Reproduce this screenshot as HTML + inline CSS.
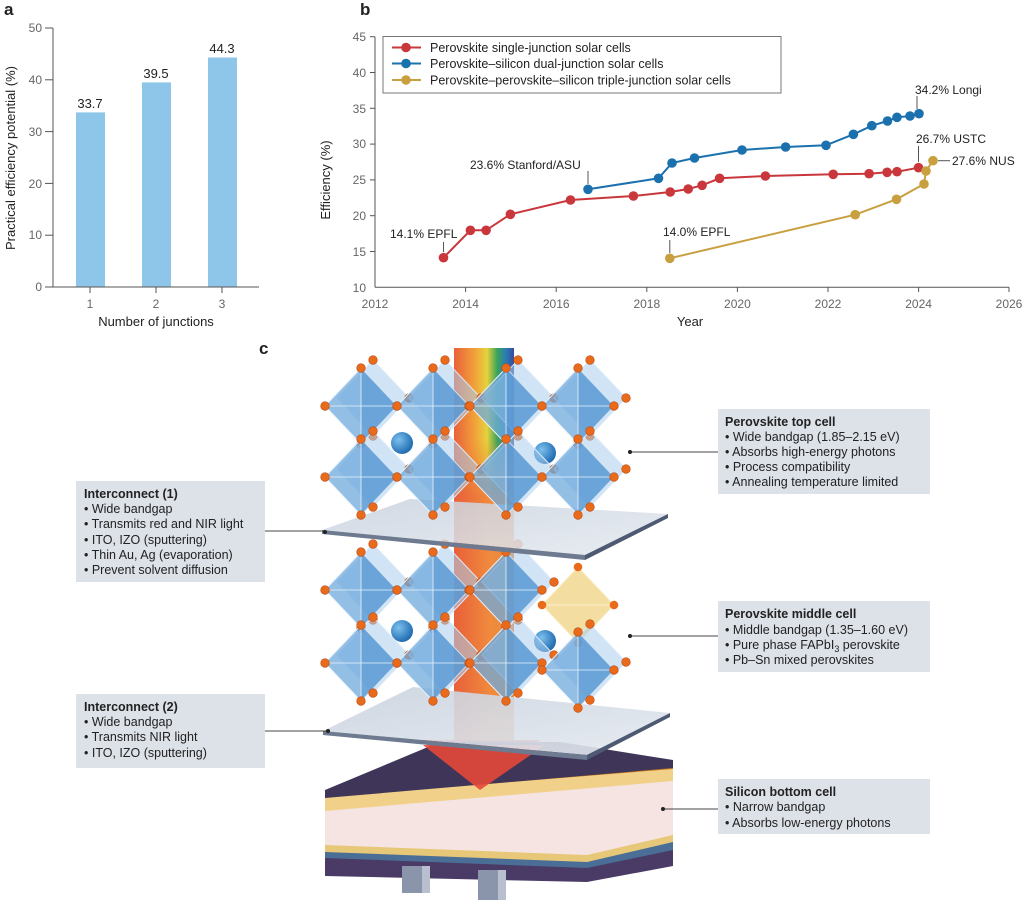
<!DOCTYPE html>
<html><head><meta charset="utf-8"><style>
html,body{margin:0;padding:0;background:#fff}
svg{display:block}
text{font-family:"Liberation Sans",sans-serif}
</style></head><body>
<svg width="1024" height="913" viewBox="0 0 1024 913" xmlns="http://www.w3.org/2000/svg">
<defs>
<linearGradient id="rb" x1="0" x2="1" y1="0" y2="0">
<stop offset="0" stop-color="#e8603a"/><stop offset="0.35" stop-color="#f2a23a"/><stop offset="0.55" stop-color="#e6d23c"/><stop offset="0.72" stop-color="#3aa45a"/><stop offset="0.87" stop-color="#2a7ab8"/><stop offset="1" stop-color="#3a4a9a"/>
</linearGradient>
<linearGradient id="fade" x1="0" x2="0" y1="0" y2="1"><stop offset="0" stop-color="#fff"/><stop offset="0.6" stop-color="#fff"/><stop offset="1" stop-color="#000"/></linearGradient>
<mask id="rbm"><rect x="440" y="348" width="90" height="150" fill="url(#fade)"/></mask>
<linearGradient id="beam" x1="0" x2="1"><stop offset="0" stop-color="#e8603a"/><stop offset="0.6" stop-color="#f08a3c"/><stop offset="1" stop-color="#e88a40"/></linearGradient>
<linearGradient id="plate" x1="0" x2="1" y1="0" y2="1"><stop offset="0" stop-color="#c9d2de"/><stop offset="1" stop-color="#e4e9f0"/></linearGradient>
<radialGradient id="sph" cx="0.35" cy="0.35" r="0.7"><stop offset="0" stop-color="#7cc0ee"/><stop offset="1" stop-color="#1d68ae"/></radialGradient>
<g id="oct">
<polygon points="12,-46 48,-8 12,30 -24,-8" fill="#a9cdee" fill-opacity="0.55" stroke="#dbeafa" stroke-width="1"/>
<polygon points="0,-38 36,0 0,38 -36,0" fill="#6fa9dc" fill-opacity="0.75" stroke="#e6f1fb" stroke-width="1"/>
<polygon points="0,-38 36,0 0,38" fill="#4a8ccc" fill-opacity="0.45"/>
<line x1="-36" y1="0" x2="36" y2="0" stroke="#eaf3fc" stroke-width="0.8"/>
<line x1="0" y1="-38" x2="0" y2="38" stroke="#eaf3fc" stroke-width="0.8"/>
<circle cx="0" cy="-38" r="4.3" fill="#ea6a1c" stroke="#b94a10" stroke-width="0.6"/>
<circle cx="12" cy="-46" r="4.3" fill="#ea6a1c" stroke="#b94a10" stroke-width="0.6"/>
<circle cx="48" cy="-8" r="4.3" fill="#ea6a1c" stroke="#b94a10" stroke-width="0.6"/>
<circle cx="-36" cy="0" r="4.3" fill="#ea6a1c" stroke="#b94a10" stroke-width="0.6"/>
<circle cx="36" cy="0" r="4.3" fill="#ea6a1c" stroke="#b94a10" stroke-width="0.6"/>
<circle cx="0" cy="38" r="4.3" fill="#ea6a1c" stroke="#b94a10" stroke-width="0.6"/>
<circle cx="12" cy="30" r="4.3" fill="#ea6a1c" stroke="#b94a10" stroke-width="0.6"/>
</g>
<g id="octg">
<polygon points="0,-38 36,0 0,38 -36,0" fill="#f0d48a" fill-opacity="0.8" stroke="#fbefc8" stroke-width="1"/>
<line x1="-36" y1="0" x2="36" y2="0" stroke="#fff4d8" stroke-width="0.8"/>
<circle cx="0" cy="-38" r="4.3" fill="#ea6a1c"/><circle cx="36" cy="0" r="4.3" fill="#ea6a1c"/><circle cx="-36" cy="0" r="4.3" fill="#ea6a1c"/><circle cx="0" cy="38" r="4.3" fill="#ea6a1c"/>
</g>
</defs>

<!-- Panel a -->
<text x="4" y="15" font-size="17" font-weight="bold" fill="#222">a</text>
<g fill="#8ec6ea">
<rect x="76" y="112.4" width="29" height="174.6"/>
<rect x="142" y="82.4" width="29" height="204.6"/>
<rect x="208" y="57.5" width="29" height="229.5"/>
</g>
<g stroke="#555" stroke-width="1">
<line x1="53" y1="28" x2="53" y2="287"/><line x1="53" y1="287" x2="259" y2="287"/>
<line x1="45" y1="28" x2="53" y2="28"/><line x1="45" y1="79.8" x2="53" y2="79.8"/><line x1="45" y1="131.6" x2="53" y2="131.6"/><line x1="45" y1="183.4" x2="53" y2="183.4"/><line x1="45" y1="235.2" x2="53" y2="235.2"/><line x1="45" y1="287" x2="53" y2="287"/>
<line x1="90" y1="287" x2="90" y2="293"/><line x1="156" y1="287" x2="156" y2="293"/><line x1="222" y1="287" x2="222" y2="293"/>
</g>
<g font-size="12" fill="#666" text-anchor="end">
<text x="42" y="32">50</text><text x="42" y="84">40</text><text x="42" y="136">30</text><text x="42" y="188">20</text><text x="42" y="239">10</text><text x="42" y="291">0</text>
</g>
<g font-size="12" fill="#666" text-anchor="middle">
<text x="90" y="308">1</text><text x="156" y="308">2</text><text x="222" y="308">3</text>
</g>
<g font-size="13" fill="#222" text-anchor="middle">
<text x="90" y="108">33.7</text><text x="156" y="78">39.5</text><text x="222" y="53">44.3</text>
<text x="156" y="326">Number of junctions</text>
<text transform="translate(15,158) rotate(-90)">Practical efficiency potential (%)</text>
</g>

<!-- Panel b -->
<text x="360" y="15" font-size="17" font-weight="bold" fill="#222">b</text>
<g stroke="#555" stroke-width="1">
<line x1="375" y1="36.7" x2="375" y2="287.3"/><line x1="375" y1="287.3" x2="1009" y2="287.3"/>
<line x1="370" y1="36.7" x2="375" y2="36.7"/><line x1="370" y1="72.5" x2="375" y2="72.5"/><line x1="370" y1="108.3" x2="375" y2="108.3"/><line x1="370" y1="144.1" x2="375" y2="144.1"/><line x1="370" y1="179.9" x2="375" y2="179.9"/><line x1="370" y1="215.7" x2="375" y2="215.7"/><line x1="370" y1="251.5" x2="375" y2="251.5"/>
<line x1="465.6" y1="287.3" x2="465.6" y2="292"/><line x1="556.2" y1="287.3" x2="556.2" y2="292"/><line x1="646.8" y1="287.3" x2="646.8" y2="292"/><line x1="737.4" y1="287.3" x2="737.4" y2="292"/><line x1="828" y1="287.3" x2="828" y2="292"/><line x1="918.6" y1="287.3" x2="918.6" y2="292"/><line x1="1009" y1="287.3" x2="1009" y2="292"/>
</g>
<g font-size="12" fill="#666" text-anchor="end">
<text x="366" y="41">45</text><text x="366" y="77">40</text><text x="366" y="113">35</text><text x="366" y="148">30</text><text x="366" y="184">25</text><text x="366" y="220">20</text><text x="366" y="256">15</text><text x="366" y="292">10</text>
</g>
<g font-size="12" fill="#666" text-anchor="middle">
<text x="375" y="308">2012</text><text x="465.6" y="308">2014</text><text x="556.2" y="308">2016</text><text x="646.8" y="308">2018</text><text x="737.4" y="308">2020</text><text x="828" y="308">2022</text><text x="918.6" y="308">2024</text><text x="1009" y="308">2026</text>
</g>
<text x="690" y="326" font-size="13" fill="#222" text-anchor="middle">Year</text>
<text transform="translate(330,180) rotate(-90)" font-size="13" fill="#222" text-anchor="middle">Efficiency (%)</text>

<rect x="383" y="36.5" width="398" height="56.5" fill="#fff" stroke="#777" stroke-width="1"/>
<g stroke-width="2">
<line x1="392" y1="47.5" x2="421" y2="47.5" stroke="#c9373c"/><circle cx="406" cy="47.5" r="4.8" fill="#c9373c"/>
<line x1="392" y1="63.5" x2="421" y2="63.5" stroke="#1b70ae"/><circle cx="406" cy="63.5" r="4.8" fill="#1b70ae"/>
<line x1="392" y1="80" x2="421" y2="80" stroke="#c9a040"/><circle cx="406" cy="80" r="4.8" fill="#c9a040"/>
</g>
<g font-size="12.5" fill="#222">
<text x="430" y="52">Perovskite single-junction solar cells</text>
<text x="430" y="68">Perovskite–silicon dual-junction solar cells</text>
<text x="430" y="84.5">Perovskite–perovskite–silicon triple-junction solar cells</text>
</g>

<polyline fill="none" stroke="#c9373c" stroke-width="2" points="443.5,257.7 470.4,230.3 486.1,230.3 510.4,214.3 570.5,200 633.4,196 670.2,192 688.2,189 702.1,185.3 719.6,178.3 765.4,176 833.2,174.3 869.1,173.7 887.1,172.3 897,171.7 918.5,167.7"/>
<g fill="#c9373c">
<circle cx="443.5" cy="257.7" r="4.8"/><circle cx="470.4" cy="230.3" r="4.8"/><circle cx="486.1" cy="230.3" r="4.8"/><circle cx="510.4" cy="214.3" r="4.8"/><circle cx="570.5" cy="200" r="4.8"/><circle cx="633.4" cy="196" r="4.8"/><circle cx="670.2" cy="192" r="4.8"/><circle cx="688.2" cy="189" r="4.8"/><circle cx="702.1" cy="185.3" r="4.8"/><circle cx="719.6" cy="178.3" r="4.8"/><circle cx="765.4" cy="176" r="4.8"/><circle cx="833.2" cy="174.3" r="4.8"/><circle cx="869.1" cy="173.7" r="4.8"/><circle cx="887.1" cy="172.3" r="4.8"/><circle cx="897" cy="171.7" r="4.8"/><circle cx="918.5" cy="167.7" r="4.8"/>
</g>
<polyline fill="none" stroke="#1b70ae" stroke-width="2" points="588,189.3 658.5,178.3 672,163 694.5,158 742,150 785.6,147 826,145.3 853.4,134.3 871.8,125.7 887.5,121 897,117.3 910,116 919,113.7"/>
<g fill="#1b70ae">
<circle cx="588" cy="189.3" r="4.8"/><circle cx="658.5" cy="178.3" r="4.8"/><circle cx="672" cy="163" r="4.8"/><circle cx="694.5" cy="158" r="4.8"/><circle cx="742" cy="150" r="4.8"/><circle cx="785.6" cy="147" r="4.8"/><circle cx="826" cy="145.3" r="4.8"/><circle cx="853.4" cy="134.3" r="4.8"/><circle cx="871.8" cy="125.7" r="4.8"/><circle cx="887.5" cy="121" r="4.8"/><circle cx="897" cy="117.3" r="4.8"/><circle cx="910" cy="116" r="4.8"/><circle cx="919" cy="113.7" r="4.8"/>
</g>
<polyline fill="none" stroke="#c9a040" stroke-width="2" points="669.8,258.3 855.2,214.7 896.5,199.3 924,184 926,171 933,160.7"/>
<g fill="#c9a040">
<circle cx="669.8" cy="258.3" r="4.8"/><circle cx="855.2" cy="214.7" r="4.8"/><circle cx="896.5" cy="199.3" r="4.8"/><circle cx="924" cy="184" r="4.8"/><circle cx="926" cy="171" r="4.8"/><circle cx="933" cy="160.7" r="4.8"/>
</g>
<g stroke="#555" stroke-width="1">
<line x1="443.5" y1="242" x2="443.5" y2="252"/><line x1="588" y1="171" x2="588" y2="184"/><line x1="669.8" y1="240" x2="669.8" y2="253"/><line x1="917" y1="96" x2="917" y2="109"/><line x1="918.5" y1="146" x2="918.5" y2="162"/><line x1="938" y1="160.7" x2="950" y2="160.7"/>
</g>
<g font-size="12" fill="#222">
<text x="390" y="238">14.1% EPFL</text>
<text x="470" y="169">23.6% Stanford/ASU</text>
<text x="663" y="236">14.0% EPFL</text>
<text x="915" y="94">34.2% Longi</text>
<text x="916" y="143">26.7% USTC</text>
<text x="952" y="165">27.6% NUS</text>
</g>

<!-- Panel c -->
<text x="259" y="354" font-size="17" font-weight="bold" fill="#222">c</text>

<rect x="454" y="348" width="60" height="395" fill="url(#beam)"/>
<rect x="454" y="348" width="60" height="150" fill="url(#rb)" mask="url(#rbm)"/>
<polygon points="423,740 540,740 480,790" fill="#e4483a"/>

<polygon points="325,800 673,775 673,845 587,860 325,866" fill="#f6e4e2"/>
<polygon points="325,845 587,855 673,835 673,848 587,868 325,862" fill="#e6c878"/>
<polygon points="325,852 587,862 673,842 673,856 587,876 325,870" fill="#4a6e96"/>
<polygon points="325,858 587,868 673,850 673,866 587,882 325,876" fill="#4a3a66"/>
<polygon points="325,790 673,762 673,776 325,806" fill="#c8781e"/>
<polygon points="325,797 673,769 673,781 325,811" fill="#f1d08a"/>
<polygon points="325,790 440,742 560,742 673,760 673,768 325,798" fill="#3e3558"/>
<polygon points="480,790 423,745 545,745" fill="#e4483a" opacity="0.9"/>
<rect x="402" y="866" width="20" height="27" fill="#8a94aa"/><rect x="422" y="866" width="8" height="27" fill="#b8c0d0"/>
<rect x="478" y="870" width="20" height="30" fill="#8a94aa"/><rect x="498" y="870" width="8" height="30" fill="#b8c0d0"/>

<polygon points="323,731 413,687 670,713 587,755" fill="url(#plate)" fill-opacity="0.9"/>
<polygon points="323,731 587,755 587,760 323,735" fill="#6e7a90"/>
<polygon points="587,755 670,713 670,717 587,760" fill="#4e5a72"/>

<use href="#oct" x="361" y="590"/><use href="#oct" x="433" y="590"/><use href="#oct" x="506" y="590"/><use href="#octg" x="578" y="605"/>
<circle cx="402" cy="631" r="11" fill="url(#sph)"/><circle cx="545" cy="641" r="11" fill="url(#sph)"/>
<use href="#oct" x="361" y="663"/><use href="#oct" x="433" y="663"/><use href="#oct" x="506" y="663"/><use href="#oct" x="578" y="670"/>

<polygon points="322,530 410,499 668,514 585,555" fill="url(#plate)" fill-opacity="0.85"/>
<polygon points="322,530 585,555 585,560 322,534" fill="#6e7a90"/>
<polygon points="585,555 668,514 668,518 585,560" fill="#4e5a72"/>

<use href="#oct" x="361" y="406"/><use href="#oct" x="433" y="406"/><use href="#oct" x="506" y="406"/><use href="#oct" x="578" y="406"/>
<circle cx="402" cy="443" r="11" fill="url(#sph)"/><circle cx="545" cy="453" r="11" fill="url(#sph)"/>
<use href="#oct" x="361" y="477"/><use href="#oct" x="433" y="477"/><use href="#oct" x="506" y="477"/><use href="#oct" x="578" y="477"/>

<g fill="#dde1e8">
<rect x="76" y="481" width="189" height="101"/>
<rect x="76" y="694" width="189" height="74"/>
<rect x="718" y="409" width="212" height="85"/>
<rect x="718" y="601" width="212" height="71"/>
<rect x="718" y="779" width="212" height="55"/>
</g>
<g stroke="#444" stroke-width="1">
<line x1="265" y1="531" x2="325" y2="531"/><line x1="265" y1="731" x2="328" y2="731"/>
<line x1="630" y1="452" x2="718" y2="452"/><line x1="630" y1="636" x2="718" y2="636"/><line x1="663" y1="809" x2="718" y2="809"/>
</g>
<g fill="#222"><circle cx="325" cy="532" r="2"/><circle cx="328" cy="731" r="2"/><circle cx="630" cy="452" r="2"/><circle cx="630" cy="636" r="2"/><circle cx="663" cy="809" r="2"/></g>
<g font-size="12.5" fill="#222">
<text x="84" y="498" font-weight="bold">Interconnect (1)</text>
<text x="84" y="513">• Wide bandgap</text>
<text x="84" y="528">• Transmits red and NIR light</text>
<text x="84" y="544">• ITO, IZO (sputtering)</text>
<text x="84" y="559">• Thin Au, Ag (evaporation)</text>
<text x="84" y="574">• Prevent solvent diffusion</text>
<text x="84" y="711" font-weight="bold">Interconnect (2)</text>
<text x="84" y="726">• Wide bandgap</text>
<text x="84" y="741">• Transmits NIR light</text>
<text x="84" y="757">• ITO, IZO (sputtering)</text>
<text x="725" y="426" font-weight="bold">Perovskite top cell</text>
<text x="725" y="441">• Wide bandgap (1.85–2.15 eV)</text>
<text x="725" y="456">• Absorbs high-energy photons</text>
<text x="725" y="471">• Process compatibility</text>
<text x="725" y="486">• Annealing temperature limited</text>
<text x="725" y="618" font-weight="bold">Perovskite middle cell</text>
<text x="725" y="634">• Middle bandgap (1.35–1.60 eV)</text>
<text x="725" y="649">• Pure phase FAPbI<tspan font-size="9" dy="3">3</tspan><tspan dy="-3"> perovskite</tspan></text>
<text x="725" y="664">• Pb–Sn mixed perovskites</text>
<text x="725" y="796" font-weight="bold">Silicon bottom cell</text>
<text x="725" y="811">• Narrow bandgap</text>
<text x="725" y="827">• Absorbs low-energy photons</text>
</g>
</svg>
</body></html>
